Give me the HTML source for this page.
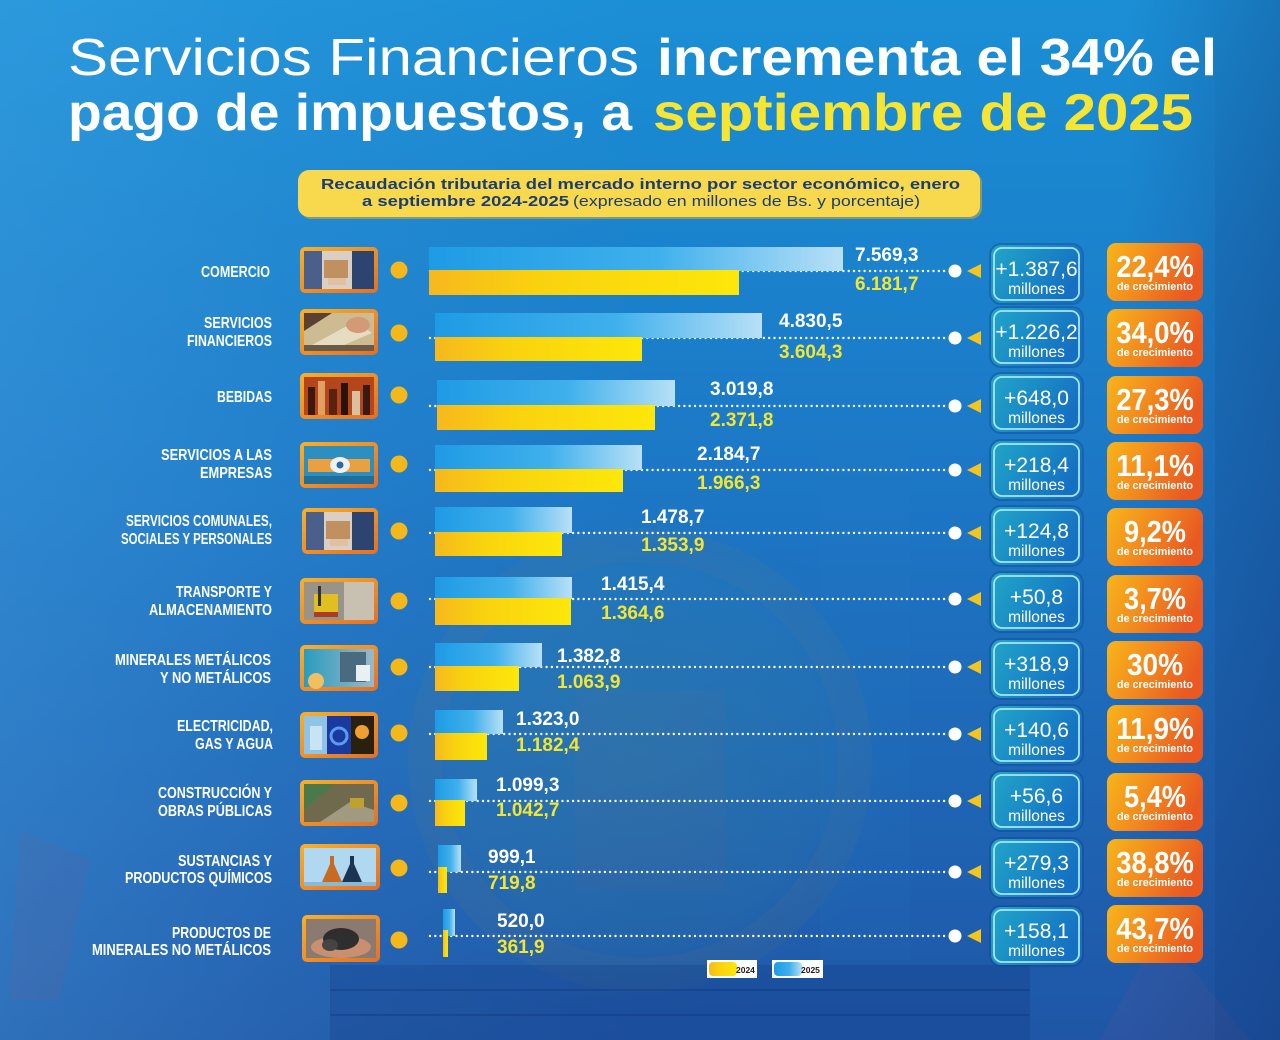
<!DOCTYPE html>
<html>
<head>
<meta charset="utf-8">
<style>
html,body{margin:0;padding:0;background:#1c78c6;}
svg{display:block;}
</style>
</head>
<body>
<svg xmlns="http://www.w3.org/2000/svg" width="1280" height="1040" viewBox="0 0 1280 1040" font-family="'Liberation Sans', Arial, sans-serif">
<defs>
  <linearGradient id="bg" x1="0" y1="0" x2="0" y2="1">
    <stop offset="0" stop-color="#1b8fd6"/>
    <stop offset="0.13" stop-color="#1a88d0"/>
    <stop offset="0.45" stop-color="#1c78c6"/>
    <stop offset="0.8" stop-color="#1f63b3"/>
    <stop offset="1" stop-color="#1f56a6"/>
  </linearGradient>
  <linearGradient id="bgH" x1="0" y1="0" x2="1" y2="0">
    <stop offset="0" stop-color="#5ab4f0" stop-opacity="0.28"/>
    <stop offset="0.22" stop-color="#5ab4f0" stop-opacity="0.12"/>
    <stop offset="0.5" stop-color="#5ab4f0" stop-opacity="0"/>
    <stop offset="0.88" stop-color="#10306e" stop-opacity="0"/>
    <stop offset="1" stop-color="#10306e" stop-opacity="0.28"/>
  </linearGradient>
  <linearGradient id="rightStrip" x1="0" y1="0" x2="0" y2="1">
    <stop offset="0" stop-color="#123a80" stop-opacity="0"/>
    <stop offset="0.3" stop-color="#123a80" stop-opacity="0.15"/>
    <stop offset="1" stop-color="#123a80" stop-opacity="0.2"/>
  </linearGradient>
  <radialGradient id="mural" cx="0.5" cy="0.5" r="0.5">
    <stop offset="0" stop-color="#4a9a8a" stop-opacity="0.22"/>
    <stop offset="0.7" stop-color="#3a8a9a" stop-opacity="0.16"/>
    <stop offset="1" stop-color="#2a70b0" stop-opacity="0"/>
  </radialGradient>
  <linearGradient id="gBlue" x1="0" y1="0" x2="1" y2="0">
    <stop offset="0" stop-color="#1e9be5"/>
    <stop offset="0.55" stop-color="#3fb0ec"/>
    <stop offset="1" stop-color="#b8e0f7"/>
  </linearGradient>
  <linearGradient id="gYellow" x1="0" y1="0" x2="1" y2="0">
    <stop offset="0" stop-color="#f7b81d"/>
    <stop offset="0.35" stop-color="#f9d20f"/>
    <stop offset="1" stop-color="#fde70a"/>
  </linearGradient>
  <linearGradient id="gFrame" x1="0" y1="0" x2="1" y2="1">
    <stop offset="0" stop-color="#f8b02a"/>
    <stop offset="1" stop-color="#e56f25"/>
  </linearGradient>
  <linearGradient id="gBox" x1="0" y1="0" x2="1" y2="0.4">
    <stop offset="0" stop-color="#22a6c8"/>
    <stop offset="0.5" stop-color="#1a8cc6"/>
    <stop offset="1" stop-color="#1670c2"/>
  </linearGradient>
  <linearGradient id="gOrange" x1="0" y1="0" x2="1" y2="0.3">
    <stop offset="0" stop-color="#f8b51a"/>
    <stop offset="0.5" stop-color="#f28a1e"/>
    <stop offset="1" stop-color="#e85a22"/>
  </linearGradient>
  <linearGradient id="gMin" x1="0" y1="0" x2="1" y2="0">
    <stop offset="0" stop-color="#2a9cc0"/>
    <stop offset="1" stop-color="#9ab8c8"/>
  </linearGradient>
</defs>

<!-- BACKGROUND -->
<rect x="0" y="0" width="1280" height="1040" fill="url(#bg)"/>
<rect x="0" y="0" width="1280" height="1040" fill="url(#bgH)"/>
<circle cx="640" cy="760" r="260" fill="url(#mural)"/>
<circle cx="640" cy="760" r="215" fill="none" stroke="#8a7a60" stroke-opacity="0.08" stroke-width="34"/>
<rect x="575" y="690" width="150" height="200" fill="#a06a80" fill-opacity="0.06"/>
<rect x="330" y="965" width="700" height="75" fill="#143c86" fill-opacity="0.3"/>
<line x1="330" y1="990" x2="1030" y2="990" stroke="#0e2e70" stroke-opacity="0.3" stroke-width="2"/>
<line x1="330" y1="1015" x2="1030" y2="1015" stroke="#0e2e70" stroke-opacity="0.3" stroke-width="2"/>
<polygon points="20,830 90,860 60,1000 10,1000" fill="#b0506a" fill-opacity="0.08"/>
<polygon points="1100,1040 1160,930 1250,1040" fill="#9a4a80" fill-opacity="0.1"/>
<rect x="1215" y="0" width="65" height="1040" fill="url(#rightStrip)"/>
<rect x="820" y="440" width="90" height="520" fill="#2a80c0" fill-opacity="0.1"/>

<!-- TITLE -->
<text x="68" y="75" font-size="52" fill="#ffffff" textLength="571" lengthAdjust="spacingAndGlyphs">Servicios Financieros</text>
<text x="657" y="75" font-size="52" font-weight="bold" fill="#ffffff" textLength="560" lengthAdjust="spacingAndGlyphs">incrementa el 34% el</text>
<text x="68" y="130" font-size="52" font-weight="bold" fill="#ffffff" textLength="564" lengthAdjust="spacingAndGlyphs">pago de impuestos, a</text>
<text x="653" y="130" font-size="52" font-weight="bold" fill="#f6e532" textLength="540" lengthAdjust="spacingAndGlyphs">septiembre de 2025</text>

<!-- SUBTITLE BANNER -->
<rect x="300" y="172" width="682" height="47" rx="11" fill="#c9a93a" fill-opacity="0.6"/>
<rect x="298" y="170" width="682" height="47" rx="11" fill="#f8d94d"/>
<text x="321" y="189" font-size="15" font-weight="bold" fill="#1c3d70" textLength="639" lengthAdjust="spacingAndGlyphs">Recaudación tributaria del mercado interno por sector económico, enero</text>
<text x="362" y="206" font-size="15" font-weight="bold" fill="#1c3d70" textLength="207" lengthAdjust="spacingAndGlyphs">a septiembre 2024-2025</text>
<text x="573" y="206" font-size="15" fill="#1c3d70" textLength="347" lengthAdjust="spacingAndGlyphs">(expresado en millones de Bs. y porcentaje)</text>

<!-- DOTTED LINES -->
<g stroke="#ffffff" stroke-width="2.4" stroke-linecap="round" stroke-dasharray="0 5.3">
  <line x1="430" y1="271" x2="946" y2="271"/>
  <line x1="430" y1="338" x2="946" y2="338"/>
  <line x1="430" y1="406" x2="946" y2="406"/>
  <line x1="430" y1="470" x2="946" y2="470"/>
  <line x1="430" y1="533" x2="946" y2="533"/>
  <line x1="430" y1="599" x2="946" y2="599"/>
  <line x1="430" y1="667" x2="946" y2="667"/>
  <line x1="430" y1="734" x2="946" y2="734"/>
  <line x1="430" y1="801" x2="946" y2="801"/>
  <line x1="430" y1="872" x2="946" y2="872"/>
  <line x1="430" y1="936" x2="946" y2="936"/>
</g>

<!-- WHITE DOTS + TRIANGLES -->
<g fill="#ffffff">
  <circle cx="955" cy="271" r="6.5"/><circle cx="955" cy="338" r="6.5"/><circle cx="955" cy="406" r="6.5"/>
  <circle cx="955" cy="470" r="6.5"/><circle cx="955" cy="533" r="6.5"/><circle cx="955" cy="599" r="6.5"/>
  <circle cx="955" cy="667" r="6.5"/><circle cx="955" cy="734" r="6.5"/><circle cx="955" cy="801" r="6.5"/>
  <circle cx="955" cy="872" r="6.5"/><circle cx="955" cy="936" r="6.5"/>
</g>
<g fill="#f6c51c">
  <polygon points="967,271 981,264 981,278"/><polygon points="967,338 981,331 981,345"/>
  <polygon points="967,406 981,399 981,413"/><polygon points="967,470 981,463 981,477"/>
  <polygon points="967,533 981,526 981,540"/><polygon points="967,599 981,592 981,606"/>
  <polygon points="967,667 981,660 981,674"/><polygon points="967,734 981,727 981,741"/>
  <polygon points="967,801 981,794 981,808"/><polygon points="967,872 981,865 981,879"/>
  <polygon points="967,936 981,929 981,943"/>
</g>

<!-- BARS -->
<rect x="429" y="247" width="414" height="24" fill="url(#gBlue)"/>
<rect x="429" y="270" width="310" height="25" fill="url(#gYellow)"/>
<rect x="435" y="313" width="327" height="25" fill="url(#gBlue)"/>
<rect x="435" y="337" width="207" height="24" fill="url(#gYellow)"/>
<rect x="437" y="380" width="238" height="26" fill="url(#gBlue)"/>
<rect x="437" y="405" width="218" height="25" fill="url(#gYellow)"/>
<rect x="435" y="445" width="207" height="25" fill="url(#gBlue)"/>
<rect x="435" y="469" width="188" height="23" fill="url(#gYellow)"/>
<rect x="435" y="507" width="137" height="26" fill="url(#gBlue)"/>
<rect x="435" y="532" width="127" height="24" fill="url(#gYellow)"/>
<rect x="435" y="577" width="137" height="22" fill="url(#gBlue)"/>
<rect x="435" y="598" width="136" height="27" fill="url(#gYellow)"/>
<rect x="435" y="643" width="107" height="24" fill="url(#gBlue)"/>
<rect x="435" y="666" width="84" height="25" fill="url(#gYellow)"/>
<rect x="435" y="710" width="68" height="24" fill="url(#gBlue)"/>
<rect x="435" y="733" width="52" height="27" fill="url(#gYellow)"/>
<rect x="435" y="779" width="42" height="22" fill="url(#gBlue)"/>
<rect x="435" y="800" width="30" height="26" fill="url(#gYellow)"/>
<rect x="438" y="845" width="23" height="27" fill="url(#gBlue)"/>
<rect x="438" y="867" width="9" height="26" fill="url(#gYellow)"/>
<rect x="443" y="909" width="12" height="27" fill="url(#gBlue)"/>
<rect x="443" y="930" width="5" height="27" fill="url(#gYellow)"/>

<!-- VALUES -->
<g font-size="19" font-weight="bold">
  <text x="855" y="261" fill="#ffffff">7.569,3</text><text x="855" y="290" fill="#f1e634">6.181,7</text>
  <text x="779" y="327" fill="#ffffff">4.830,5</text><text x="779" y="358" fill="#f1e634">3.604,3</text>
  <text x="710" y="395" fill="#ffffff">3.019,8</text><text x="710" y="426" fill="#f1e634">2.371,8</text>
  <text x="697" y="460" fill="#ffffff">2.184,7</text><text x="697" y="489" fill="#f1e634">1.966,3</text>
  <text x="641" y="523" fill="#ffffff">1.478,7</text><text x="641" y="551" fill="#f1e634">1.353,9</text>
  <text x="601" y="590" fill="#ffffff">1.415,4</text><text x="601" y="619" fill="#f1e634">1.364,6</text>
  <text x="557" y="662" fill="#ffffff">1.382,8</text><text x="557" y="688" fill="#f1e634">1.063,9</text>
  <text x="516" y="725" fill="#ffffff">1.323,0</text><text x="516" y="751" fill="#f1e634">1.182,4</text>
  <text x="496" y="791" fill="#ffffff">1.099,3</text><text x="496" y="816" fill="#f1e634">1.042,7</text>
  <text x="488" y="863" fill="#ffffff">999,1</text><text x="488" y="889" fill="#f1e634">719,8</text>
  <text x="497" y="927" fill="#ffffff">520,0</text><text x="497" y="953" fill="#f1e634">361,9</text>
</g>

<!-- LABELS -->
<g font-family="'Liberation Sans Narrow','Liberation Sans',Arial,sans-serif" font-size="16" font-weight="bold" fill="#ffffff" text-anchor="end">
  <text x="270" y="277" textLength="69" lengthAdjust="spacingAndGlyphs">COMERCIO</text>
  <text x="272" y="328" textLength="68" lengthAdjust="spacingAndGlyphs">SERVICIOS</text>
  <text x="272" y="346" textLength="85" lengthAdjust="spacingAndGlyphs">FINANCIEROS</text>
  <text x="272" y="402" textLength="55" lengthAdjust="spacingAndGlyphs">BEBIDAS</text>
  <text x="272" y="460" textLength="111" lengthAdjust="spacingAndGlyphs">SERVICIOS A LAS</text>
  <text x="272" y="478" textLength="72" lengthAdjust="spacingAndGlyphs">EMPRESAS</text>
  <text x="272" y="526" textLength="146" lengthAdjust="spacingAndGlyphs">SERVICIOS COMUNALES,</text>
  <text x="272" y="544" textLength="151" lengthAdjust="spacingAndGlyphs">SOCIALES Y PERSONALES</text>
  <text x="272" y="597" textLength="96" lengthAdjust="spacingAndGlyphs">TRANSPORTE Y</text>
  <text x="272" y="615" textLength="123" lengthAdjust="spacingAndGlyphs">ALMACENAMIENTO</text>
  <text x="271" y="665" textLength="156" lengthAdjust="spacingAndGlyphs">MINERALES METÁLICOS</text>
  <text x="271" y="683" textLength="111" lengthAdjust="spacingAndGlyphs">Y NO METÁLICOS</text>
  <text x="273" y="731" textLength="96" lengthAdjust="spacingAndGlyphs">ELECTRICIDAD,</text>
  <text x="273" y="749" textLength="78" lengthAdjust="spacingAndGlyphs">GAS Y AGUA</text>
  <text x="272" y="798" textLength="114" lengthAdjust="spacingAndGlyphs">CONSTRUCCIÓN Y</text>
  <text x="272" y="816" textLength="114" lengthAdjust="spacingAndGlyphs">OBRAS PÚBLICAS</text>
  <text x="272" y="866" textLength="94" lengthAdjust="spacingAndGlyphs">SUSTANCIAS Y</text>
  <text x="272" y="883" textLength="147" lengthAdjust="spacingAndGlyphs">PRODUCTOS QUÍMICOS</text>
  <text x="271" y="938" textLength="99" lengthAdjust="spacingAndGlyphs">PRODUCTOS DE</text>
  <text x="271" y="955" textLength="179" lengthAdjust="spacingAndGlyphs">MINERALES NO METÁLICOS</text>
</g>

<!-- ICONS -->
<g transform="translate(300,247)">
  <rect x="0" y="0" width="78" height="46" rx="5" fill="url(#gFrame)"/>
  <rect x="4" y="4" width="70" height="38" fill="#d9cfc4"/>
  <rect x="4" y="4" width="18" height="38" fill="#4a5f8a"/>
  <rect x="52" y="4" width="22" height="38" fill="#2d4370"/>
  <rect x="24" y="13" width="24" height="18" fill="#c09060"/>
  <rect x="28" y="31" width="18" height="7" fill="#e0c0a0"/>
</g>
<g transform="translate(300,309)">
  <rect x="0" y="0" width="78" height="46" rx="5" fill="url(#gFrame)"/>
  <rect x="4" y="4" width="70" height="38" fill="#cdbb92"/>
  <polygon points="4,4 32,4 4,22" fill="#5a4030"/>
  <polygon points="12,36 56,12 72,24 30,42" fill="#e6dcc2"/>
  <ellipse cx="58" cy="16" rx="12" ry="8" fill="#d49a78"/>
  <rect x="4" y="36" width="70" height="6" fill="#6a5a48"/>
</g>
<g transform="translate(300,373)">
  <rect x="0" y="0" width="78" height="46" rx="5" fill="url(#gFrame)"/>
  <rect x="4" y="4" width="70" height="38" fill="#b5461c"/>
  <rect x="8" y="14" width="7" height="28" fill="#3a1a10"/>
  <rect x="18" y="8" width="7" height="34" fill="#e0a060"/>
  <rect x="29" y="16" width="8" height="26" fill="#5a2210"/>
  <rect x="41" y="10" width="7" height="32" fill="#2a1208"/>
  <rect x="52" y="18" width="8" height="24" fill="#d8c0a0"/>
  <rect x="63" y="12" width="7" height="30" fill="#3a1a10"/>
</g>
<g transform="translate(300,442)">
  <rect x="0" y="0" width="78" height="46" rx="5" fill="url(#gFrame)"/>
  <rect x="4" y="4" width="70" height="38" fill="#2c8fbf"/>
  <rect x="8" y="17" width="62" height="13" fill="#e8a040"/>
  <ellipse cx="40" cy="23" rx="10" ry="8" fill="#f0f0f0"/>
  <circle cx="40" cy="23" r="3.5" fill="#2a6aa0"/>
  <rect x="4" y="34" width="70" height="8" fill="#1f6f9a"/>
</g>
<g transform="translate(302,508)">
  <rect x="0" y="0" width="76" height="46" rx="5" fill="url(#gFrame)"/>
  <rect x="4" y="4" width="68" height="38" fill="#d9cfc4"/>
  <rect x="4" y="4" width="18" height="38" fill="#4a5f8a"/>
  <rect x="50" y="4" width="22" height="38" fill="#2d4370"/>
  <rect x="24" y="13" width="24" height="18" fill="#c09060"/>
  <rect x="28" y="31" width="18" height="7" fill="#e0c0a0"/>
</g>
<g transform="translate(300,578)">
  <rect x="0" y="0" width="78" height="46" rx="5" fill="url(#gFrame)"/>
  <rect x="4" y="4" width="70" height="38" fill="#9a9488"/>
  <rect x="44" y="4" width="30" height="38" fill="#c8c0b0"/>
  <rect x="14" y="16" width="24" height="22" fill="#e0c020"/>
  <rect x="18" y="8" width="3" height="20" fill="#333"/>
  <rect x="14" y="34" width="24" height="5" fill="#b03a20"/>
</g>
<g transform="translate(300,645)">
  <rect x="0" y="0" width="78" height="46" rx="5" fill="url(#gFrame)"/>
  <rect x="4" y="4" width="70" height="38" fill="url(#gMin)"/>
  <circle cx="16" cy="36" r="8" fill="#f0c060"/>
  <rect x="40" y="7" width="26" height="30" fill="#4a6a80"/>
  <rect x="56" y="20" width="14" height="16" fill="#e8f0f4"/>
</g>
<g transform="translate(300,712)">
  <rect x="0" y="0" width="78" height="46" rx="5" fill="url(#gFrame)"/>
  <rect x="4" y="4" width="23" height="38" fill="#8fc4e6"/>
  <rect x="27" y="4" width="24" height="38" fill="#1a3aa0"/>
  <circle cx="39" cy="24" r="8" fill="none" stroke="#5a9af0" stroke-width="3"/>
  <rect x="51" y="4" width="23" height="38" fill="#2a2010"/>
  <circle cx="62" cy="20" r="7" fill="#f0a030"/>
  <rect x="10" y="14" width="12" height="24" fill="#c8e4f4"/>
</g>
<g transform="translate(300,780)">
  <rect x="0" y="0" width="78" height="46" rx="5" fill="url(#gFrame)"/>
  <rect x="4" y="4" width="70" height="38" fill="#6f6a4e"/>
  <polygon points="4,4 34,4 4,30" fill="#4a7a4a"/>
  <polygon points="20,42 50,22 74,30 74,42" fill="#a09a80"/>
  <rect x="50" y="18" width="14" height="10" fill="#c0a030"/>
</g>
<g transform="translate(300,844)">
  <rect x="0" y="0" width="80" height="46" rx="5" fill="url(#gFrame)"/>
  <rect x="4" y="4" width="72" height="38" fill="#b0d8f0"/>
  <polygon points="30,12 34,12 34,20 42,38 22,38 30,20" fill="#c86a20"/>
  <polygon points="50,12 54,12 54,20 62,38 42,38 50,20" fill="#1a3550"/>
  <rect x="4" y="38" width="72" height="4" fill="#8ab8d8"/>
</g>
<g transform="translate(302,915)">
  <rect x="0" y="0" width="78" height="47" rx="5" fill="url(#gFrame)"/>
  <rect x="4" y="4" width="70" height="39" fill="#8a7a70"/>
  <ellipse cx="39" cy="32" rx="30" ry="11" fill="#c89070"/>
  <ellipse cx="39" cy="24" rx="18" ry="11" fill="#2e2e2e"/>
  <ellipse cx="28" cy="30" rx="8" ry="6" fill="#444"/>
</g>

<!-- YELLOW DOTS -->
<g fill="#f5b81b">
  <circle cx="399" cy="270" r="8.5"/><circle cx="399" cy="333" r="8.5"/><circle cx="399" cy="395" r="8.5"/>
  <circle cx="399" cy="464" r="8.5"/><circle cx="399" cy="531" r="8.5"/><circle cx="399" cy="601" r="8.5"/>
  <circle cx="399" cy="667" r="8.5"/><circle cx="399" cy="733" r="8.5"/><circle cx="399" cy="803" r="8.5"/>
  <circle cx="399" cy="868" r="8.5"/><circle cx="399" cy="940" r="8.5"/>
</g>

<!-- MILLONES BOXES -->
<g>
  <g transform="translate(991,245)"><rect x="-2" y="-2" width="95" height="62" rx="12" fill="#0d3f80" fill-opacity="0.35"/><rect x="0" y="0" width="91" height="58" rx="10" fill="url(#gBox)"/><rect x="3" y="3" width="85" height="52" rx="8" fill="none" stroke="#a8e6f2" stroke-width="1.8"/><text x="45.5" y="31" font-size="21" fill="#fff" text-anchor="middle">+1.387,6</text><text x="45.5" y="49" font-size="15.5" fill="#fff" text-anchor="middle">millones</text></g>
  <g transform="translate(991,308)"><rect x="-2" y="-2" width="95" height="62" rx="12" fill="#0d3f80" fill-opacity="0.35"/><rect x="0" y="0" width="91" height="58" rx="10" fill="url(#gBox)"/><rect x="3" y="3" width="85" height="52" rx="8" fill="none" stroke="#a8e6f2" stroke-width="1.8"/><text x="45.5" y="31" font-size="21" fill="#fff" text-anchor="middle">+1.226,2</text><text x="45.5" y="49" font-size="15.5" fill="#fff" text-anchor="middle">millones</text></g>
  <g transform="translate(991,374)"><rect x="-2" y="-2" width="95" height="62" rx="12" fill="#0d3f80" fill-opacity="0.35"/><rect x="0" y="0" width="91" height="58" rx="10" fill="url(#gBox)"/><rect x="3" y="3" width="85" height="52" rx="8" fill="none" stroke="#a8e6f2" stroke-width="1.8"/><text x="45.5" y="31" font-size="21" fill="#fff" text-anchor="middle">+648,0</text><text x="45.5" y="49" font-size="15.5" fill="#fff" text-anchor="middle">millones</text></g>
  <g transform="translate(991,441)"><rect x="-2" y="-2" width="95" height="62" rx="12" fill="#0d3f80" fill-opacity="0.35"/><rect x="0" y="0" width="91" height="58" rx="10" fill="url(#gBox)"/><rect x="3" y="3" width="85" height="52" rx="8" fill="none" stroke="#a8e6f2" stroke-width="1.8"/><text x="45.5" y="31" font-size="21" fill="#fff" text-anchor="middle">+218,4</text><text x="45.5" y="49" font-size="15.5" fill="#fff" text-anchor="middle">millones</text></g>
  <g transform="translate(991,507)"><rect x="-2" y="-2" width="95" height="62" rx="12" fill="#0d3f80" fill-opacity="0.35"/><rect x="0" y="0" width="91" height="58" rx="10" fill="url(#gBox)"/><rect x="3" y="3" width="85" height="52" rx="8" fill="none" stroke="#a8e6f2" stroke-width="1.8"/><text x="45.5" y="31" font-size="21" fill="#fff" text-anchor="middle">+124,8</text><text x="45.5" y="49" font-size="15.5" fill="#fff" text-anchor="middle">millones</text></g>
  <g transform="translate(991,573)"><rect x="-2" y="-2" width="95" height="62" rx="12" fill="#0d3f80" fill-opacity="0.35"/><rect x="0" y="0" width="91" height="58" rx="10" fill="url(#gBox)"/><rect x="3" y="3" width="85" height="52" rx="8" fill="none" stroke="#a8e6f2" stroke-width="1.8"/><text x="45.5" y="31" font-size="21" fill="#fff" text-anchor="middle">+50,8</text><text x="45.5" y="49" font-size="15.5" fill="#fff" text-anchor="middle">millones</text></g>
  <g transform="translate(991,640)"><rect x="-2" y="-2" width="95" height="62" rx="12" fill="#0d3f80" fill-opacity="0.35"/><rect x="0" y="0" width="91" height="58" rx="10" fill="url(#gBox)"/><rect x="3" y="3" width="85" height="52" rx="8" fill="none" stroke="#a8e6f2" stroke-width="1.8"/><text x="45.5" y="31" font-size="21" fill="#fff" text-anchor="middle">+318,9</text><text x="45.5" y="49" font-size="15.5" fill="#fff" text-anchor="middle">millones</text></g>
  <g transform="translate(991,706)"><rect x="-2" y="-2" width="95" height="62" rx="12" fill="#0d3f80" fill-opacity="0.35"/><rect x="0" y="0" width="91" height="58" rx="10" fill="url(#gBox)"/><rect x="3" y="3" width="85" height="52" rx="8" fill="none" stroke="#a8e6f2" stroke-width="1.8"/><text x="45.5" y="31" font-size="21" fill="#fff" text-anchor="middle">+140,6</text><text x="45.5" y="49" font-size="15.5" fill="#fff" text-anchor="middle">millones</text></g>
  <g transform="translate(991,772)"><rect x="-2" y="-2" width="95" height="62" rx="12" fill="#0d3f80" fill-opacity="0.35"/><rect x="0" y="0" width="91" height="58" rx="10" fill="url(#gBox)"/><rect x="3" y="3" width="85" height="52" rx="8" fill="none" stroke="#a8e6f2" stroke-width="1.8"/><text x="45.5" y="31" font-size="21" fill="#fff" text-anchor="middle">+56,6</text><text x="45.5" y="49" font-size="15.5" fill="#fff" text-anchor="middle">millones</text></g>
  <g transform="translate(991,839)"><rect x="-2" y="-2" width="95" height="62" rx="12" fill="#0d3f80" fill-opacity="0.35"/><rect x="0" y="0" width="91" height="58" rx="10" fill="url(#gBox)"/><rect x="3" y="3" width="85" height="52" rx="8" fill="none" stroke="#a8e6f2" stroke-width="1.8"/><text x="45.5" y="31" font-size="21" fill="#fff" text-anchor="middle">+279,3</text><text x="45.5" y="49" font-size="15.5" fill="#fff" text-anchor="middle">millones</text></g>
  <g transform="translate(991,907)"><rect x="-2" y="-2" width="95" height="62" rx="12" fill="#0d3f80" fill-opacity="0.35"/><rect x="0" y="0" width="91" height="58" rx="10" fill="url(#gBox)"/><rect x="3" y="3" width="85" height="52" rx="8" fill="none" stroke="#a8e6f2" stroke-width="1.8"/><text x="45.5" y="31" font-size="21" fill="#fff" text-anchor="middle">+158,1</text><text x="45.5" y="49" font-size="15.5" fill="#fff" text-anchor="middle">millones</text></g>
</g>

<!-- ORANGE BOXES -->
<g font-weight="bold" fill="#fff">
  <g transform="translate(1107,243)"><rect width="96" height="58" rx="9" fill="url(#gOrange)"/><text x="48" y="34" font-size="31" fill="#fff" text-anchor="middle" textLength="77.5" lengthAdjust="spacingAndGlyphs">22,4%</text><text x="48" y="47" font-size="11" fill="#fff" text-anchor="middle" textLength="76" lengthAdjust="spacingAndGlyphs">de crecimiento</text></g>
  <g transform="translate(1107,309)"><rect width="96" height="58" rx="9" fill="url(#gOrange)"/><text x="48" y="34" font-size="31" fill="#fff" text-anchor="middle" textLength="77.5" lengthAdjust="spacingAndGlyphs">34,0%</text><text x="48" y="47" font-size="11" fill="#fff" text-anchor="middle" textLength="76" lengthAdjust="spacingAndGlyphs">de crecimiento</text></g>
  <g transform="translate(1107,376)"><rect width="96" height="58" rx="9" fill="url(#gOrange)"/><text x="48" y="34" font-size="31" fill="#fff" text-anchor="middle" textLength="77.5" lengthAdjust="spacingAndGlyphs">27,3%</text><text x="48" y="47" font-size="11" fill="#fff" text-anchor="middle" textLength="76" lengthAdjust="spacingAndGlyphs">de crecimiento</text></g>
  <g transform="translate(1107,442)"><rect width="96" height="58" rx="9" fill="url(#gOrange)"/><text x="48" y="34" font-size="31" fill="#fff" text-anchor="middle" textLength="77.5" lengthAdjust="spacingAndGlyphs">11,1%</text><text x="48" y="47" font-size="11" fill="#fff" text-anchor="middle" textLength="76" lengthAdjust="spacingAndGlyphs">de crecimiento</text></g>
  <g transform="translate(1107,508)"><rect width="96" height="58" rx="9" fill="url(#gOrange)"/><text x="48" y="34" font-size="31" fill="#fff" text-anchor="middle" textLength="62" lengthAdjust="spacingAndGlyphs">9,2%</text><text x="48" y="47" font-size="11" fill="#fff" text-anchor="middle" textLength="76" lengthAdjust="spacingAndGlyphs">de crecimiento</text></g>
  <g transform="translate(1107,575)"><rect width="96" height="58" rx="9" fill="url(#gOrange)"/><text x="48" y="34" font-size="31" fill="#fff" text-anchor="middle" textLength="62" lengthAdjust="spacingAndGlyphs">3,7%</text><text x="48" y="47" font-size="11" fill="#fff" text-anchor="middle" textLength="76" lengthAdjust="spacingAndGlyphs">de crecimiento</text></g>
  <g transform="translate(1107,641)"><rect width="96" height="58" rx="9" fill="url(#gOrange)"/><text x="48" y="34" font-size="31" fill="#fff" text-anchor="middle" textLength="56" lengthAdjust="spacingAndGlyphs">30%</text><text x="48" y="47" font-size="11" fill="#fff" text-anchor="middle" textLength="76" lengthAdjust="spacingAndGlyphs">de crecimiento</text></g>
  <g transform="translate(1107,705)"><rect width="96" height="58" rx="9" fill="url(#gOrange)"/><text x="48" y="34" font-size="31" fill="#fff" text-anchor="middle" textLength="77.5" lengthAdjust="spacingAndGlyphs">11,9%</text><text x="48" y="47" font-size="11" fill="#fff" text-anchor="middle" textLength="76" lengthAdjust="spacingAndGlyphs">de crecimiento</text></g>
  <g transform="translate(1107,773)"><rect width="96" height="58" rx="9" fill="url(#gOrange)"/><text x="48" y="34" font-size="31" fill="#fff" text-anchor="middle" textLength="62" lengthAdjust="spacingAndGlyphs">5,4%</text><text x="48" y="47" font-size="11" fill="#fff" text-anchor="middle" textLength="76" lengthAdjust="spacingAndGlyphs">de crecimiento</text></g>
  <g transform="translate(1107,839)"><rect width="96" height="58" rx="9" fill="url(#gOrange)"/><text x="48" y="34" font-size="31" fill="#fff" text-anchor="middle" textLength="77.5" lengthAdjust="spacingAndGlyphs">38,8%</text><text x="48" y="47" font-size="11" fill="#fff" text-anchor="middle" textLength="76" lengthAdjust="spacingAndGlyphs">de crecimiento</text></g>
  <g transform="translate(1107,905)"><rect width="96" height="58" rx="9" fill="url(#gOrange)"/><text x="48" y="34" font-size="31" fill="#fff" text-anchor="middle" textLength="77.5" lengthAdjust="spacingAndGlyphs">43,7%</text><text x="48" y="47" font-size="11" fill="#fff" text-anchor="middle" textLength="76" lengthAdjust="spacingAndGlyphs">de crecimiento</text></g>
</g>

<!-- LEGEND -->
<rect x="707" y="960" width="50" height="18" fill="#ffffff"/>
<rect x="709" y="962" width="28" height="14" rx="4" fill="url(#gYellow)"/>
<text x="736" y="973" font-size="8.5" font-weight="bold" fill="#1a1a1a">2024</text>
<rect x="772" y="960" width="51" height="18" fill="#ffffff"/>
<rect x="774" y="962" width="28" height="14" rx="4" fill="url(#gBlue)"/>
<text x="801" y="973" font-size="8.5" font-weight="bold" fill="#1a1a1a">2025</text>
</svg>
</body>
</html>
